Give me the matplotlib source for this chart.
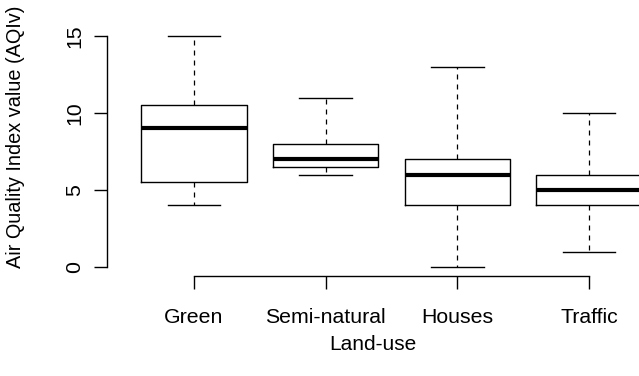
import matplotlib.pyplot as plt

plt.rcParams['font.family'] = ['Liberation Sans', 'DejaVu Sans']

categorias = ["Green", "Semi-natural", "Houses", "Traffic"]
minimos = [4, 6, 0, 1]
q1 = [5.5, 6.5, 4, 4]
medianas = [9, 7, 6, 5]
q3 = [10.5, 8, 7, 6]
maximos = [15, 11, 13, 10]
yticks = [0, 5, 10, 15]

stats = []
for nome, lo, a, m, b, hi in zip(categorias, minimos, q1, medianas, q3, maximos):
    stats.append({"label": nome, "whislo": lo, "q1": a, "med": m,
                  "q3": b, "whishi": hi, "fliers": []})

fig = plt.figure(figsize=(6.39, 3.76), dpi=100)
ax = fig.add_axes([107/639, 1 - 276.2/376, 1 - 107/639, (276.2 - 26.8)/376])

ax.bxp(stats, positions=[1, 2, 3, 4], widths=0.8, capwidths=0.4,
       showfliers=False, patch_artist=False,
       boxprops=dict(color='black', linewidth=1.0),
       medianprops=dict(color='black', linewidth=3.0, solid_capstyle='butt'),
       whiskerprops=dict(color='black', linewidth=0.9, linestyle=(0, (4, 4))),
       capprops=dict(color='black', linewidth=1.0))

ax.set_xlim(0.339, 4.38)
ax.set_ylim(-0.6, 15.6)

for lado in ['top', 'right']:
    ax.spines[lado].set_visible(False)
ax.spines['left'].set_bounds(0, 15)
ax.spines['bottom'].set_bounds(1, 4)
ax.spines['left'].set_linewidth(1.0)
ax.spines['bottom'].set_linewidth(1.0)

ax.set_yticks(yticks)
ax.set_yticklabels([str(v) for v in yticks], rotation=90, va='center')
ax.set_xticks([1, 2, 3, 4])
ax.set_xticklabels(categorias)
ax.tick_params(axis='both', length=9.5, width=1.0, labelsize=15.3)
ax.tick_params(axis='y', pad=7)
ax.tick_params(axis='x', pad=13.5)

ax.set_xlabel("Land-use", fontsize=15)
ax.xaxis.set_label_coords(0.5, -0.236)
ax.xaxis.label.set_va('top')
ax.set_ylabel("Air Quality Index value (AQIv)", fontsize=14.3)
ax.yaxis.set_label_coords(-0.154, 0.558)

fig.savefig("out.png", dpi=100)
